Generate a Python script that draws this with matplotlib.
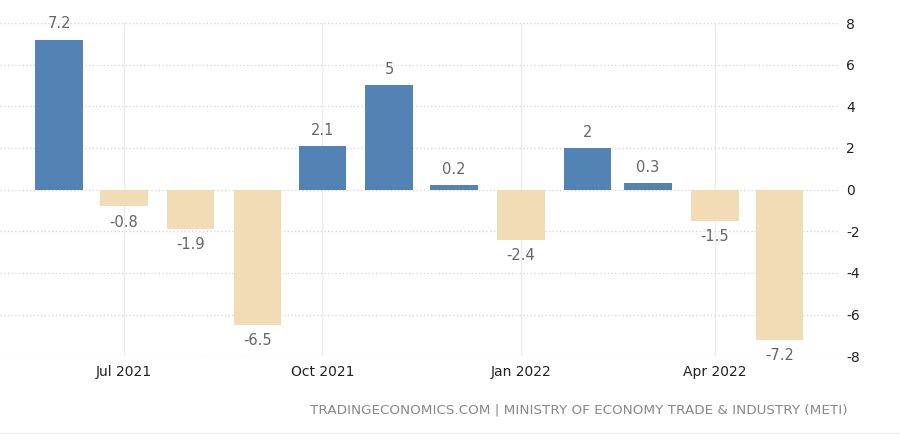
import pandas as pd
import matplotlib.pyplot as plt
import matplotlib.dates as mdates
import numpy as np

months = ['2021-06', '2021-07', '2021-08', '2021-09', '2021-10', '2021-11',
          '2021-12', '2022-01', '2022-02', '2022-03', '2022-04', '2022-05']
values = [7.2, -0.8, -1.9, -6.5, 2.1, 5, 0.2, -2.4, 2, 0.3, -1.5, -7.2]
labels = ['7.2', '-0.8', '-1.9', '-6.5', '2.1', '5', '0.2', '-2.4', '2', '0.3', '-1.5', '-7.2']
tick_dates = ['2021-07-01', '2021-10-01', '2022-01-01', '2022-04-01']
tick_labels = ['Jul 2021', 'Oct 2021', 'Jan 2022', 'Apr 2022']
yticks = [-8, -6, -4, -2, 0, 2, 4, 6, 8]

blue = '#5382b4'
beige = '#f2dcb5'

dates = pd.to_datetime(months)
x = mdates.date2num(dates)
colors = [blue if v >= 0 else beige for v in values]

fig = plt.figure(figsize=(9, 4.43), dpi=100)
ax = fig.add_axes([0, 0.196, 0.931, 0.752])

ax.bar(x, values, width=22, color=colors, zorder=3)

for xi, v, lab in zip(x, values, labels):
    if v >= 0:
        ax.annotate(lab, (xi, v), xytext=(0, 6), textcoords='offset points',
                    ha='center', va='bottom', fontsize=10.5, color='#666666')
    else:
        ax.annotate(lab, (xi, v), xytext=(0, -6), textcoords='offset points',
                    ha='center', va='top', fontsize=10.5, color='#666666')

ax.set_xlim(x[0] - 27.4, x[-1] + 27)
ax.set_ylim(-8, 8)
ax.set_yticks(yticks)
ax.set_yticklabels([str(t) for t in yticks])
ax.yaxis.tick_right()
ax.tick_params(axis='y', length=0, pad=6, labelsize=10, labelcolor='#222222')

ax.set_xticks(mdates.date2num(pd.to_datetime(tick_dates)))
ax.set_xticklabels(tick_labels)
ax.tick_params(axis='x', length=0, pad=6, labelsize=10, labelcolor='#222222')

ax.grid(axis='y', linestyle=':', linewidth=1, color='#d8d8d8', zorder=0)
ax.grid(axis='x', linestyle='-', linewidth=1, color='#ececec', zorder=0)
for s in ax.spines.values():
    s.set_visible(False)

fig.text(0.942, 0.075, 'TRADINGECONOMICS.COM | MINISTRY OF ECONOMY TRADE & INDUSTRY (METI)',
         ha='right', va='center', fontsize=9.7, color='#888888')
fig.add_artist(plt.Line2D([0, 1], [0.022, 0.022], color='#eeeeee', linewidth=1))

fig.savefig('out.png', dpi=100)
